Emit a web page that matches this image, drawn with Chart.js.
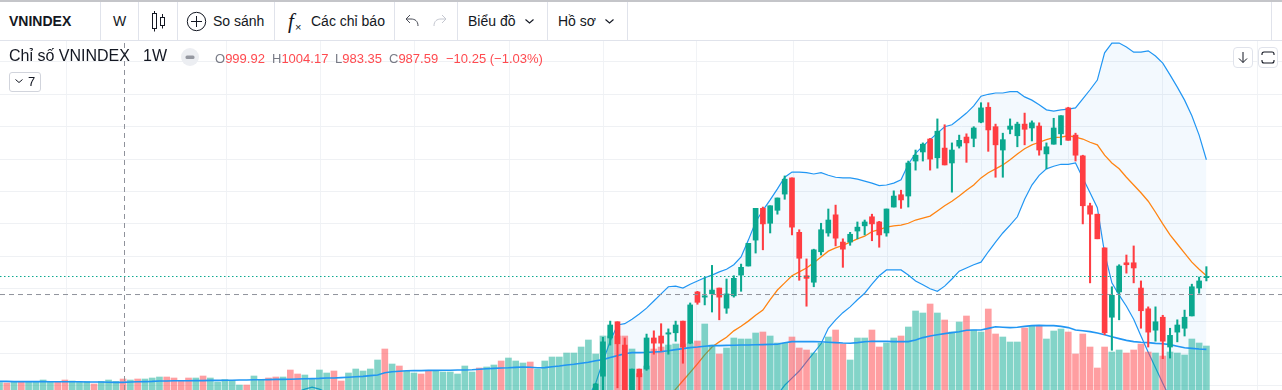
<!DOCTYPE html>
<html><head><meta charset="utf-8">
<script src="https://cdn.jsdelivr.net/npm/chart.js@4"></script>
<style>
html,body{margin:0;padding:0;background:#fff;overflow:hidden;width:1282px;height:390px;font-family:"Liberation Sans",Arial,sans-serif;color:#131722}
canvas{position:absolute;left:0;top:0}
#bar{position:absolute;left:0;top:0;width:1282px;height:40px;background:#fff;border-top:2px solid #c4c5c9;box-sizing:border-box;z-index:3}
#line{position:absolute;left:0;top:40px;width:1282px;height:1px;background:#e0e3eb;z-index:3}
.sep{position:absolute;top:2px;width:1px;height:38px;background:#e0e3eb;z-index:4}
.t{position:absolute;white-space:nowrap;z-index:5;line-height:20px}
.tb{font-size:14px;top:11px}
svg{position:absolute;z-index:5}
.lg{font-size:13px;top:49px;color:#787b86}
.lg b{font-weight:400;color:#ff4a4f}
.box{position:absolute;border:1px solid #e0e3eb;border-radius:4px;box-sizing:border-box;z-index:5;background:#fff}
</style></head><body>
<canvas id="c" width="1282" height="390"></canvas>
<div id="bar"></div><div id="line"></div>
<div class="sep" style="left:100px"></div><div class="sep" style="left:138px"></div><div class="sep" style="left:177px"></div><div class="sep" style="left:274px"></div><div class="sep" style="left:394px"></div><div class="sep" style="left:457px"></div><div class="sep" style="left:547px"></div><div class="sep" style="left:627px"></div><div class="sep" style="left:1271px"></div>
<div class="t tb" style="left:9px;font-weight:700;font-size:14px">VNINDEX</div>
<div class="t tb" style="left:113px">W</div>
<svg style="left:150px;top:9px" width="18" height="24" fill="none" stroke="#131722" stroke-width="1"><rect x="2.5" y="4.5" width="4" height="15"/><rect x="10.5" y="8.5" width="4" height="8"/><path d="M4.5 2v2.5M4.5 19.5v3M12.5 5v3.5M12.5 16.5v3"/></svg>
<svg style="left:186px;top:11px" width="21" height="21" fill="none" stroke="#131722" stroke-width="1"><circle cx="10.5" cy="10.5" r="9.2"/><path d="M10.5 5v11M5 10.5h11"/></svg>
<div class="t tb" style="left:213px">So sánh</div>
<div class="t" style="left:288px;top:10px;font:italic 21px 'Liberation Serif',serif;line-height:22px">f</div>
<div class="t" style="left:295px;top:21px;font-size:11px;line-height:12px">×</div>
<div class="t tb" style="left:311px">Các chỉ báo</div>
<svg style="left:404px;top:14px" width="16" height="14" fill="none" stroke="#4a4d57" stroke-width="1"><path d="M14 12C14 7 11 5 7 5H2M6 1L2 5l4 4"/></svg>
<svg style="left:432px;top:14px" width="16" height="14" fill="none" stroke="#c4c7d0" stroke-width="1"><path d="M2 12C2 7 5 5 9 5h5M10 1l4 4-4 4"/></svg>
<div class="t tb" style="left:468px">Biểu đồ</div>
<svg style="left:524px;top:18px" width="11" height="7" fill="none" stroke="#131722" stroke-width="1.1"><path d="M1.5 1.5l4 3.5 4-3.5"/></svg>
<div class="t tb" style="left:558px">Hồ sơ</div>
<svg style="left:604px;top:18px" width="11" height="7" fill="none" stroke="#131722" stroke-width="1.1"><path d="M1.5 1.5l4 3.5 4-3.5"/></svg>
<div class="t" style="left:9px;top:46px;font-size:16px">Chỉ số VNINDEX</div>
<div class="t" style="left:143px;top:46px;font-size:16px">1W</div>
<svg style="left:181px;top:48px" width="18" height="18"><circle cx="9" cy="9" r="9" fill="#eceef2"/><rect x="4.5" y="7.5" width="9" height="3.5" rx="1.5" fill="#9598a1"/></svg>
<div class="t lg" style="left:215px">O<b>999.92</b></div>
<div class="t lg" style="left:272px">H<b>1004.17</b></div>
<div class="t lg" style="left:335px">L<b>983.35</b></div>
<div class="t lg" style="left:389px">C<b>987.59</b></div>
<div class="t lg" style="left:446px"><b>−10.25 (−1.03%)</b></div>
<div class="box" style="left:9px;top:72px;width:32px;height:20px;border-color:#d1d4dc;border-radius:3px"></div>
<svg style="left:14px;top:78px" width="10" height="7" fill="none" stroke="#131722" stroke-width="1"><path d="M1.5 1.5l3.5 3 3.5-3"/></svg>
<div class="t" style="left:28px;top:72px;font-size:13px">7</div>
<div class="box" style="left:1233px;top:47px;width:20px;height:21px"></div>
<svg style="left:1237px;top:51px" width="12" height="13" fill="none" stroke="#131722" stroke-width="1"><path d="M6 1v10.5M2 7.5l4 4 4-4"/></svg>
<div class="box" style="left:1258px;top:47px;width:20px;height:21px"></div>
<svg style="left:1261px;top:51px" width="14" height="13" fill="none" stroke="#131722" stroke-width="1.1"><path d="M1 4V3a2 2 0 0 1 2-2h8a2 2 0 0 1 2 2v1M1 9v1a2 2 0 0 0 2 2h8a2 2 0 0 0 2-2V9"/></svg>
<script>
// ---- price candles, starting at week index 82 (earlier weeks lie below the visible range)
const candleStart = 82;
const opens  = [1078,1115,1174,1199,1163,1086,1126,1126,1174,1177,1180,1182,1200,1166,1245,1237,1242,1251,1220,1239,1271,1285,1325,1374,1351,1371,1396,1421,1337,1270,1260,1307,1336,1364,1322,1322,1339,1347,1361,1353,1336,1376,1395,1393,1447,1461,1481,1452,1467,1444,1470,1484,1482,1507,1530,1500,1464,1496,1486,1504,1498,1501,1458,1473,1489,1529,1487,1455,1378,1365,1313,1206,1245,1290,1290,1251,1219,1186,1206,1160,1183,1189,1208,1251,1267];
const highs  = [1104,1175,1200,1199,1174,1126,1126,1180,1185,1196,1188,1200,1200,1228,1246,1267,1286,1251,1265,1270,1288,1320,1374,1376,1378,1390,1424,1421,1341,1296,1311,1351,1373,1379,1327,1337,1353,1356,1365,1354,1373,1401,1402,1447,1464,1475,1482,1512,1503,1475,1487,1489,1500,1537,1537,1504,1490,1512,1507,1521,1509,1506,1475,1513,1517,1530,1490,1456,1382,1365,1313,1253,1287,1302,1316,1262,1222,1222,1209,1189,1202,1217,1257,1268,1284];
const lows   = [1070,1091,1163,1097,1070,1081,1086,1124,1149,1154,1149,1169,1135,1165,1226,1225,1214,1202,1212,1237,1246,1285,1305,1310,1336,1365,1388,1333,1263,1223,1253,1302,1331,1316,1283,1317,1327,1333,1324,1314,1331,1376,1374,1376,1433,1447,1433,1436,1441,1399,1467,1445,1469,1506,1462,1422,1422,1489,1469,1472,1478,1456,1435,1473,1472,1479,1447,1350,1259,1327,1179,1155,1202,1274,1259,1189,1160,1169,1142,1143,1168,1177,1208,1243,1262];
const closes = [1103,1168,1194,1165,1078,1126,1114,1174,1166,1166,1182,1194,1160,1225,1229,1239,1248,1237,1242,1266,1283,1320,1374,1350,1378,1390,1419,1345,1297,1266,1310,1341,1356,1328,1311,1334,1345,1353,1350,1333,1373,1393,1387,1444,1456,1473,1450,1493,1441,1464,1479,1475,1498,1529,1495,1472,1480,1501,1504,1496,1506,1464,1469,1498,1517,1479,1456,1378,1365,1327,1182,1240,1285,1287,1282,1216,1183,1199,1169,1178,1194,1206,1253,1262,1268.8];
// ---- Bollinger bands
const upperEarlyStart = 40;
const upperEarly = [1084,1091,1095,1098,1095,1090,1084];
const bandStart = 79;
const upper = [1063,1070,1083,1104,1138,1169,1194,1196,1203,1211,1220,1231,1242,1253,1254,1251,1257,1262,1267,1271,1276,1280,1287,1299,1325,1353,1371,1387,1404,1422,1430,1430,1429,1427,1429,1425,1422,1421,1421,1419,1416,1413,1409,1410,1413,1418,1442,1459,1470,1480,1490,1500,1503,1512,1521,1532,1547,1550,1552,1552,1554,1554,1546,1541,1534,1526,1524,1526,1527,1529,1543,1557,1572,1614,1629,1629,1623,1615,1615,1617,1609,1598,1580,1561,1541,1517,1487,1449];
const lower = [900,905,905,910,910,915,915,920,920,925,925,930,930,935,935,940,940,945,945,950,955,970,986,1001,1016,1040,1055,1070,1086,1101,1112,1123,1137,1151,1165,1189,1202,1213,1222,1233,1243,1257,1270,1279,1279,1279,1271,1262,1256,1250,1246,1254,1265,1277,1282,1287,1291,1307,1322,1336,1348,1361,1388,1410,1425,1435,1439,1442,1442,1444,1421,1398,1375,1305,1259,1240,1223,1203,1177,1152,1128,1104,1081,1055,1029,1004,978,952];
const basisStart = 91;
const basis = [1067,1081,1095,1108,1121,1134,1148,1160,1168,1175,1185,1192,1200,1209,1217,1233,1248,1259,1270,1276,1282,1290,1299,1308,1313,1317,1322,1327,1331,1338,1341,1345,1347,1348,1351,1356,1359,1362,1370,1378,1385,1393,1402,1410,1421,1429,1435,1441,1449,1458,1466,1472,1476,1480,1483,1484,1486,1484,1481,1476,1472,1456,1444,1435,1422,1410,1398,1385,1368,1350,1333,1319,1305,1291,1280,1270];
// ---- volume, all 167 weeks; volumeUp: 1 = up week, 0 = down week
const volume = [37,35,42,42,42,42,50,42,43,50,45,43,43,30,43,50,43,55,50,55,55,60,65,65,60,47,60,60,70,60,40,52,47,25,25,70,50,60,65,65,100,80,75,53,100,85,95,45,85,105,95,105,150,205,130,120,95,85,80,95,95,90,90,80,120,90,110,115,125,145,160,145,135,140,105,145,165,165,185,185,215,250,180,270,270,270,270,205,82,120,205,215,225,230,230,235,245,330,225,180,210,260,255,255,285,290,270,235,235,265,210,200,185,235,265,300,230,150,260,260,300,215,235,260,270,315,395,385,430,385,350,290,340,370,300,290,405,280,265,240,240,310,320,320,255,295,305,290,180,280,215,110,215,190,200,185,200,230,190,185,170,190,185,175,255,235,220];
const volumeUp = [1,0,1,0,1,1,1,1,0,0,1,1,1,0,1,1,1,0,1,0,1,1,1,0,0,0,0,1,0,1,1,1,1,1,0,1,1,0,0,1,0,0,1,1,1,1,0,0,1,1,1,1,1,0,1,0,1,1,0,0,1,1,1,1,1,1,0,1,1,0,1,1,1,0,1,1,1,1,1,1,1,1,1,1,1,0,0,1,0,1,0,0,1,1,0,1,0,1,1,0,1,1,1,1,1,0,1,1,1,0,0,0,1,1,1,0,0,1,1,1,0,0,1,1,0,1,1,1,0,1,0,1,1,0,1,1,0,0,1,1,1,0,1,0,1,1,1,0,0,0,0,0,0,1,1,0,0,0,0,1,0,1,1,1,1,1,1];
const volumeMA = [43,43,42,42,42,42,42,41,41,41,41,41,40,40,40,39,38,38,40,41,42,43,45,45,46,46,46,47,47,48,48,49,49,50,50,51,51,52,53,53,54,55,56,57,58,60,60,62,64,66,68,72,75,86,91,94,96,97,97,98,98,99,99,100,100,101,104,106,108,110,111,113,115,114,111,112,116,120,125,129,134,139,146,152,163,172,181,187,187,188,190,192,196,202,207,212,215,219,222,222,223,224,225,225,226,227,228,229,236,242,242,242,242,241,239,237,235,234,237,241,244,243,243,242,242,242,250,262,270,276,282,287,291,299,300,300,308,316,314,312,314,318,322,323,322,322,318,312,300,296,292,285,276,266,257,248,242,239,237,233,231,227,219,211,208,205,203];
// ---- axis marks
const gridWeeks = [9.2,31.2,44.1,57.1,70.1,83.1,95.9,109.2,122.1,135.0,147.0,159.9,173.0];
const priceStep = 50;
const priceMin = 1093.7, priceMax = 1695.5;
const volumeMax = 1950;
const weekMin = 0.069, weekMax = 176.4;
const crosshairWeek = 17.194, crosshairPrice = 1241.0;
const lastClose = closes[closes.length-1];

const teal='#0aa88f', red='#ff3d42', tealV='rgba(8,170,145,.5)', redV='rgba(255,61,67,.5)', blue='#2196f3';
const series=(arr,start)=>arr.map((v,i)=>({x:i+start,y:v}));
const candleColors=opens.map((o,i)=>closes[i]>=o?teal:red);
const line=(data,color,width,order,extra)=>Object.assign({type:'line',data,borderColor:color,borderWidth:width,pointRadius:0,tension:0,order,fill:false},extra||{});

new Chart(document.getElementById('c'),{
  data:{datasets:[
    line(series(upper,bandStart),blue,1.2,60),                                      //0
    line(series(lower,bandStart),blue,1.2,60,{fill:{target:0},backgroundColor:'rgba(33,150,243,.055)'}), //1
    line(series(upperEarly,upperEarlyStart),blue,1.2,60),
    line(series(basis,basisStart),'#ff8412',1.3,59),
    {type:'bar',data:volume.map((v,i)=>({x:i,y:v})),yAxisID:'y1',backgroundColor:volumeUp.map(u=>u?tealV:redV),barThickness:6,grouped:false,order:50},
    line(series(volumeMA,0),blue,1.6,40,{yAxisID:'y1'}),
    {type:'bar',data:lows.map((l,i)=>({x:i+candleStart,y:[l,highs[i]]})),backgroundColor:candleColors,barThickness:1.4,grouped:false,order:30},
    {type:'bar',data:opens.map((o,i)=>({x:i+candleStart,y:[o,closes[i]]})),backgroundColor:candleColors,barThickness:5,grouped:false,order:29},
    line([{x:weekMin,y:lastClose},{x:weekMax,y:lastClose}],teal,1,20,{borderDash:[1.5,2.5]}),
    line([{x:weekMin,y:crosshairPrice},{x:weekMax,y:crosshairPrice}],'#8f929b',1,19,{borderDash:[5,4]}),
    line([{x:crosshairWeek,y:priceMin},{x:crosshairWeek,y:priceMax}],'#8f929b',1,19,{borderDash:[5,4]})
  ]},
  options:{
    responsive:false,animation:false,events:[],
    layout:{padding:0},
    plugins:{legend:{display:false},tooltip:{enabled:false}},
    scales:{
      x:{type:'linear',offset:false,min:weekMin,max:weekMax,
        afterBuildTicks:s=>{s.ticks=gridWeeks.map(v=>({value:v}))},
        ticks:{display:false},border:{display:false},grid:{color:'#f1f3f6',drawTicks:false,offset:false}},
      y:{type:'linear',min:priceMin,max:priceMax,
        afterBuildTicks:s=>{const t=[];for(let v=1100;v<1700;v+=priceStep)t.push({value:v});s.ticks=t},
        ticks:{display:false},border:{display:false},grid:{color:'#eff1f4',drawTicks:false}},
      y1:{type:'linear',display:false,min:0,max:volumeMax}
    }
  }
});
</script>
</body></html>
